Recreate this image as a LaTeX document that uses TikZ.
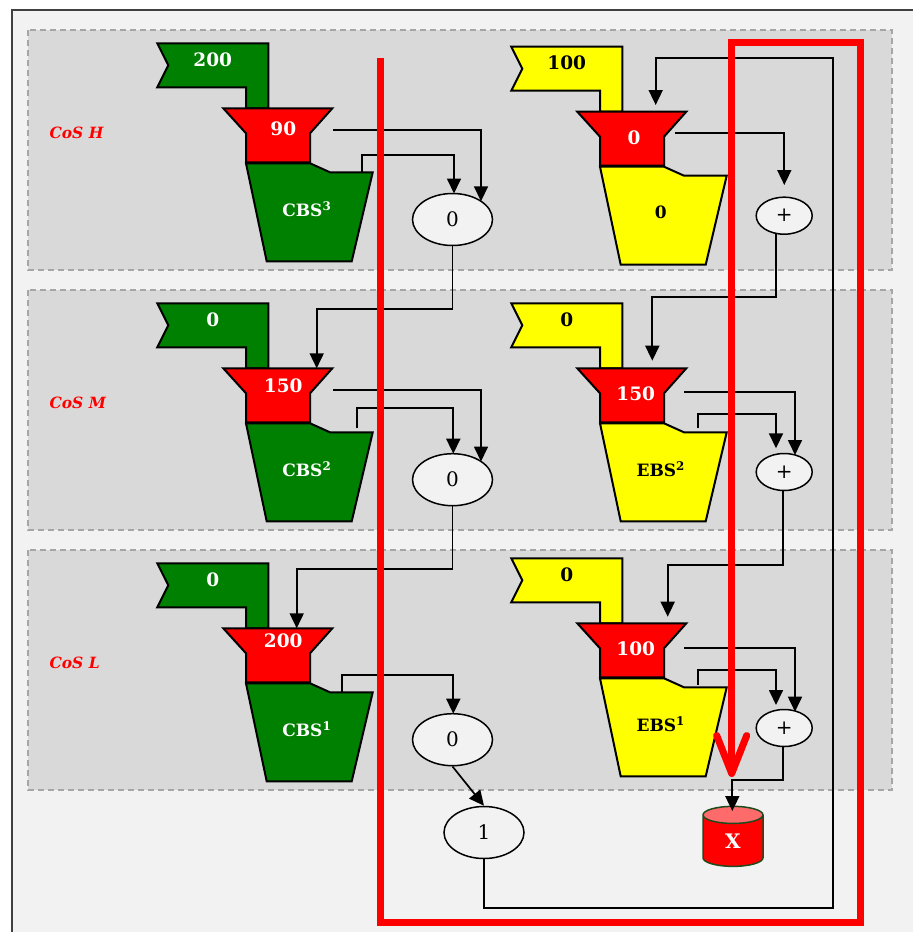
\documentclass[tikz,border=0pt]{standalone}
\usepackage{fontspec}
\setmainfont{DejaVu Serif}
\usetikzlibrary{arrows.meta,shapes.geometric}
\definecolor{frameBg}{HTML}{F2F2F2}
\definecolor{frameLine}{HTML}{404040}
\definecolor{laneBg}{HTML}{D9D9D9}
\definecolor{laneLine}{HTML}{A6A6A6}
\definecolor{gr}{HTML}{008000}
\definecolor{yl}{HTML}{FFFF00}
\definecolor{rd}{HTML}{FF0000}
\definecolor{rdLight}{HTML}{FF6B6B}
\definecolor{cylLine}{HTML}{1E4A1E}
\newcommand{\bsunit}[7]{%
  \begin{scope}[shift={(#1,#2)}]
    \draw[shapeline,fill=#3] (-66,-65) -- (45,-65) -- (45,0) -- (22.7,0) -- (22.7,-21) -- (-66,-21) -- (-55,-43) -- cycle;
    \draw[shapeline,fill=#3] (22.7,55) -- (86.7,55) -- (106.7,64) -- (149.4,64) -- (128.4,153) -- (43.4,153) -- cycle;
    \draw[shapeline,fill=rd] (0,0) -- (109,0) -- (86.7,25) -- (86.7,54) -- (22.7,54) -- (22.7,25) -- cycle;
    \node[#4,numfont] (#5flag) at (-10.5,-49) {#6};
    \node[#4,bsfont] (#5bucket) at (83.5,101) {#7};
  \end{scope}}
\begin{document}
\begin{tikzpicture}[x=1pt,y=-1pt,
  shapeline/.style={draw=black,line width=2pt,line join=miter},
  conn/.style={draw=black,line width=1.7pt,-{Triangle[length=15pt,width=14pt]}},
  oval/.style={ellipse,draw=black,line width=1.5pt,fill=frameBg,inner sep=0pt,minimum width=80pt,minimum height=52pt,font=\fontsize{20}{22}\selectfont},
  plus/.style={oval,minimum width=56pt,minimum height=37pt,font=\fontsize{20}{22}\selectfont},
  lanebox/.style={draw=laneLine,fill=laneBg,line width=1.5pt,dash pattern=on 6pt off 4pt},
  lanelabel/.style={anchor=west,text=rd,font=\fontsize{15.5}{18}\selectfont\bfseries\itshape},
  numfont/.style={font=\fontsize{18.5}{20}\selectfont\bfseries},
  bsfont/.style={font=\fontsize{17}{20}\selectfont\bfseries},
  wtxt/.style={text=white},
  btxt/.style={text=black},
  redpath/.style={draw=rd,line width=7pt,line join=miter},
]
\useasboundingbox (0,0) rectangle (913,932);
\fill[white] (0,0) rectangle (913,932);
\draw[fill=frameBg,draw=frameLine,line width=2pt] (12,10) rectangle (940,960);
% lanes
\draw[lanebox] (28,30) rectangle (892,270);
\draw[lanebox] (28,290) rectangle (892,530);
\draw[lanebox] (28,550) rectangle (892,790);
\node[lanelabel] (cosH) at (46,133) {CoS H};
\node[lanelabel] (cosM) at (46,403) {CoS M};
\node[lanelabel] (cosL) at (46,663) {CoS L};
% green units
\bsunit{223.3}{108.3}{gr}{wtxt}{gA}{200}{CBS\textsuperscript{3}}
\bsunit{223.3}{368.3}{gr}{wtxt}{gB}{0}{CBS\textsuperscript{2}}
\bsunit{223.3}{628.3}{gr}{wtxt}{gC}{0}{CBS\textsuperscript{1}}
% yellow units
\bsunit{577.3}{111.7}{yl}{btxt}{yA}{100}{0}
\bsunit{577.3}{368.3}{yl}{btxt}{yB}{0}{EBS\textsuperscript{2}}
\bsunit{577.3}{623.3}{yl}{btxt}{yC}{0}{EBS\textsuperscript{1}}
% funnel values
\node[wtxt,numfont] (gAval) at (283.3,129) {90};
\node[wtxt,numfont] (gBval) at (283.3,385.7) {150};
\node[wtxt,numfont] (gCval) at (283.3,640.7) {200};
\node[wtxt,numfont] (yAval) at (634,137.3) {0};
\node[wtxt,numfont] (yBval) at (635.7,393.3) {150};
\node[wtxt,numfont] (yCval) at (635.7,649) {100};
% ellipses
\node[oval] (g1) at (452.5,219.5) {0};
\node[oval] (g2) at (452.5,479.7) {0};
\node[oval] (g3) at (452.5,739.7) {0};
\node[oval] (one) at (484,832.5) {1};
\node[plus] (p1) at (784.2,215.7) {+};
\node[plus] (p2) at (784.2,472) {+};
\node[plus] (p3) at (784.2,728) {+};
\node[cylinder,shape border rotate=90,aspect=1.1,minimum width=60pt,minimum height=60pt,draw=cylLine,line width=1.5pt,cylinder uses custom fill,cylinder body fill=rd,cylinder end fill=rdLight,text=white,font=\fontsize{20}{22}\selectfont\bfseries,inner sep=0pt] (cyl) at (733,841) {X};
% connector coordinates
\coordinate (g1fo) at (333,130);   \coordinate (g1fi) at (481,201.3);
\coordinate (g1bo) at (361.7,172.3); \coordinate (g1bv) at (454,155); \coordinate (g1bi) at (454,193.5);
\coordinate (g2fo) at (333.3,390); \coordinate (g2fi) at (481,461.5);
\coordinate (g2bo) at (356.7,428.3); \coordinate (g2bv) at (453.3,408.3); \coordinate (g2bi) at (453.3,453.7);
\coordinate (g3bo) at (341.7,692.3); \coordinate (g3bv) at (453.3,675); \coordinate (g3bi) at (453.3,713.7);
\coordinate (g2top) at (316.7,368.3);
\coordinate (g3top) at (296.7,628.3);
\coordinate (y1fo) at (675,133.3); \coordinate (y1fi) at (784.3,185);
\coordinate (y2fo) at (684.3,392.3); \coordinate (y2fi) at (795,455);
\coordinate (y2bo) at (697.7,428.3); \coordinate (y2bv) at (776,414.3); \coordinate (y2bi) at (776,448.3);
\coordinate (y3fo) at (684.3,648.3); \coordinate (y3fi) at (795,711.7);
\coordinate (y3bo) at (697.7,685); \coordinate (y3bv) at (776,670); \coordinate (y3bi) at (776,705);
\coordinate (p1out) at (776,233.4); \coordinate (y2top) at (652.3,360.7);
\coordinate (p2out) at (782.7,490.5); \coordinate (y3top) at (667.7,616.7);
\coordinate (p3out) at (782.7,746.5); \coordinate (cylin) at (732.3,811);
\coordinate (loopR) at (833,907.7); \coordinate (loopT) at (833,58.3); \coordinate (y1top) at (655.7,105);
% green connectors
\draw[conn] (g1fo) -| (g1fi);
\draw[conn] (g1bo) |- (g1bv) -- (g1bi);
\draw[conn] (g2fo) -| (g2fi);
\draw[conn] (g2bo) |- (g2bv) -- (g2bi);
\draw[conn] (g3bo) |- (g3bv) -- (g3bi);
\draw[conn] (g1.south) -- ++(0,62.5) -| (g2top);
\draw[conn] (g2.south) -- ++(0,62.6) -| (g3top);
\draw[conn] (g3.south) -- (one.north);
\draw[conn] (one.south) |- (loopR) -- (loopT) -| (y1top);
% yellow connectors
\draw[conn] (y1fo) -| (y1fi);
\draw[conn] (y2fo) -| (y2fi);
\draw[conn] (y2bo) |- (y2bv) -- (y2bi);
\draw[conn] (y3fo) -| (y3fi);
\draw[conn] (y3bo) |- (y3bv) -- (y3bi);
\draw[conn] (p1out) -- ++(0,63.3) -| (y2top);
\draw[conn] (p2out) -- ++(0,74.5) -| (y3top);
\draw[conn] (p3out) -- ++(0,33.5) -| (cylin);
% red path
\coordinate (rA) at (380,58); \coordinate (rB) at (380,922); \coordinate (rC) at (860,922);
\coordinate (rD) at (860,42.7); \coordinate (rE) at (731.7,42.7); \coordinate (rF) at (731.7,777);
\draw[redpath,-{Straight Barb[length=38pt,width=30pt,round]}] (rA) -- (rB) -- (rC) -- (rD) -- (rE) -- (rF);
\end{tikzpicture}
\end{document}
